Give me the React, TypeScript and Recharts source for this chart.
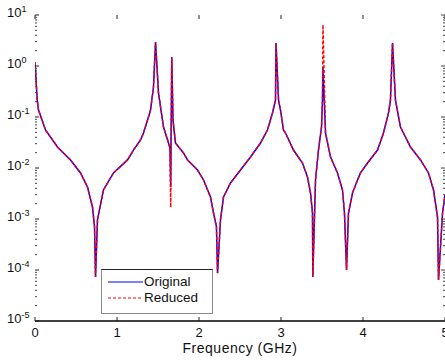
import React from 'react';
import { LineChart, Line, XAxis, YAxis, Legend } from 'recharts';

const FREQ_GHZ = [
  0, 0.027, 0.043, 0.128, 0.274, 0.433, 0.555, 0.64, 0.701, 0.726,
  0.738, 0.762, 0.835, 0.957, 1.128, 1.201, 1.287, 1.323, 1.384, 1.409,
  1.445, 1.47, 1.506, 1.567, 1.628, 1.646, 1.655, 1.66, 1.668, 1.683,
  1.713, 1.811, 1.86, 1.982, 2.055, 2.14, 2.177, 2.213, 2.226, 2.262,
  2.299, 2.384, 2.506, 2.628, 2.75, 2.835, 2.896, 2.933, 2.939, 2.97,
  2.994, 3.03, 3.055, 3.152, 3.262, 3.323, 3.36, 3.384, 3.388, 3.421,
  3.457, 3.494, 3.506, 3.512, 3.543, 3.604, 3.689, 3.75, 3.774, 3.799,
  3.823, 3.872, 3.933, 3.97, 4.055, 4.177, 4.25, 4.311, 4.335, 4.36,
  4.396, 4.457, 4.579, 4.701, 4.799, 4.86, 4.909, 4.921, 4.97, 5.0,
];

const ORIGINAL = [
  1.2, 0.215, 0.137, 0.0556, 0.0258, 0.0144, 0.008, 0.00424, 0.00172, 0.0007,
  0.000073, 0.00096, 0.00371, 0.008, 0.0144, 0.0225, 0.0354, 0.0485, 0.1, 0.137,
  0.387, 2.96, 0.296, 0.0637, 0.0309, 0.0247, 0.00424, 0.05, 1.5, 0.087,
  0.031, 0.0197, 0.0144, 0.00914, 0.00582, 0.0027, 0.00131, 0.0007, 0.000087, 0.00096,
  0.0027, 0.00508, 0.00914, 0.0164, 0.0309, 0.0556, 0.12, 0.215, 2.83, 0.215,
  0.137, 0.0556, 0.0485, 0.0225, 0.0125, 0.00667, 0.00324, 0.00131, 0.000073, 0.00582,
  0.0225, 0.0637, 0.215, 0.91, 0.0485, 0.0164, 0.008, 0.0037, 0.00131, 0.0001,
  0.00131, 0.00324, 0.00582, 0.008, 0.0125, 0.0225, 0.0485, 0.12, 0.215, 2.83,
  0.215, 0.0637, 0.0258, 0.0144, 0.008, 0.0037, 0.00109, 0.000064, 0.00131, 0.003,
];

const REDUCED = [
  1.2, 0.215, 0.137, 0.0556, 0.0258, 0.0144, 0.008, 0.00424, 0.00172, 0.0007,
  0.000073, 0.00096, 0.00371, 0.008, 0.0144, 0.0225, 0.0354, 0.0485, 0.1, 0.137,
  0.387, 2.96, 0.296, 0.0637, 0.0309, 0.0247, 0.0017, 0.05, 1.5, 0.087,
  0.031, 0.0197, 0.0144, 0.00914, 0.00582, 0.0027, 0.00131, 0.0007, 0.000087, 0.00096,
  0.0027, 0.00508, 0.00914, 0.0164, 0.0309, 0.0556, 0.12, 0.215, 2.83, 0.215,
  0.137, 0.0556, 0.0485, 0.0225, 0.0125, 0.00667, 0.00324, 0.00131, 0.000073, 0.00582,
  0.0225, 0.0637, 0.215, 6.4, 0.0485, 0.0164, 0.008, 0.0037, 0.00131, 0.0001,
  0.00131, 0.00324, 0.00582, 0.008, 0.0125, 0.0225, 0.0485, 0.12, 0.215, 2.83,
  0.215, 0.0637, 0.0258, 0.0144, 0.008, 0.0037, 0.00109, 0.000064, 0.00131, 0.003,
];

const X_TICKS = [0, 1, 2, 3, 4, 5];
const Y_MAJOR = [1e-5, 1e-4, 1e-3, 1e-2, 1e-1, 1, 10];
const Y_EXP = ['-5', '-4', '-3', '-2', '-1', '0', '1'];
const Y_MINOR_MULT = [2, 3, 4, 5, 6, 7, 8, 9];
const Y_ALL = Y_MAJOR.slice(0, -1)
  .flatMap((m) => [m, ...Y_MINOR_MULT.map((k) => k * m)])
  .concat([10]);

const FONT = '"Liberation Sans", Arial, Helvetica, sans-serif';

const data = FREQ_GHZ.map((f, i) => ({ f, original: ORIGINAL[i], reduced: REDUCED[i] }));

const LeftTick = (props: any) => {
  const { x, y, payload } = props;
  const idx = Y_MAJOR.indexOf(payload.value);
  if (idx < 0) {
    return <line x1={x} x2={x + 2} y1={y} y2={y} stroke="#444" strokeWidth={1} />;
  }
  return (
    <g>
      <line x1={x} x2={x + 4} y1={y} y2={y} stroke="#222" strokeWidth={1} />
      <text x={x - 28} y={y + 2} fontFamily={FONT} fontSize={13} fill="#111">
        10
        <tspan dy={-5} fontSize={9}>
          {Y_EXP[idx]}
        </tspan>
      </text>
    </g>
  );
};

const RightTick = (props: any) => {
  const { x, y, payload } = props;
  const major = Y_MAJOR.indexOf(payload.value) >= 0;
  return <line x1={x} x2={x - (major ? 4 : 2)} y1={y} y2={y} stroke="#444" strokeWidth={1} />;
};

const TopTick = (props: any) => {
  const { x, y } = props;
  return <line x1={x} x2={x} y1={y} y2={y + 4} stroke="#222" strokeWidth={1} />;
};

const BottomTick = (props: any) => {
  const { x, y, payload } = props;
  return (
    <g>
      <line x1={x} x2={x} y1={y} y2={y - 4} stroke="#222" strokeWidth={1} />
      <text x={x} y={y + 16} textAnchor="middle" fontFamily={FONT} fontSize={13} fill="#111">
        {payload.value}
      </text>
    </g>
  );
};

const LegendBox = (props: any) => {
  const items = props.payload || [];
  return (
    <div
      style={{
        width: 112,
        height: 45,
        boxSizing: 'border-box',
        border: '1px solid #888',
        borderTop: '1px solid #222',
        background: '#fff',
        fontFamily: FONT,
        fontSize: 13.5,
        color: '#111',
        paddingTop: 4,
      }}
    >
      {items.map((it: any) => (
        <div key={it.value} style={{ display: 'flex', alignItems: 'center', height: 16 }}>
          <svg width={42} height={16} style={{ display: 'block' }}>
            <line
              x1={6}
              x2={41}
              y1={8}
              y2={8}
              stroke={it.color}
              strokeWidth={1.2}
              strokeDasharray={it.payload && it.payload.strokeDasharray ? it.payload.strokeDasharray : undefined}
            />
          </svg>
          <span style={{ lineHeight: '16px' }}>{it.value}</span>
        </div>
      ))}
    </div>
  );
};

export default function App() {
  return (
    <div style={{ position: 'absolute', left: 0, top: 0, width: 445, height: 362, overflow: 'hidden', background: '#fff' }}>
      <LineChart width={460} height={362} data={data} margin={{ top: 0, right: 0, bottom: 0, left: 0 }}>
        <XAxis
          xAxisId="bottom"
          dataKey="f"
          type="number"
          domain={[0, 5]}
          ticks={X_TICKS}
          interval={0}
          allowDataOverflow
          height={41}
          axisLine={{ stroke: '#000', strokeWidth: 1.5 }}
          tickLine={false}
          tickSize={0}
          tickMargin={0}
          tick={<BottomTick />}
          label={{
            value: 'Frequency (GHz)',
            position: 'insideBottom',
            offset: 9,
            style: { fontFamily: FONT, fontSize: 14, letterSpacing: 0.5, fill: '#111' },
          }}
        />
        <XAxis
          xAxisId="top"
          dataKey="f"
          orientation="top"
          type="number"
          domain={[0, 5]}
          ticks={X_TICKS}
          interval={0}
          allowDataOverflow
          height={15}
          axisLine={false}
          tickLine={false}
          tickSize={0}
          tickMargin={0}
          tick={<TopTick />}
        />
        <YAxis
          yAxisId="left"
          type="number"
          scale="log"
          domain={[1e-5, 10]}
          ticks={Y_ALL}
          interval={0}
          allowDataOverflow
          width={35}
          axisLine={false}
          tickLine={false}
          tickSize={0}
          tickMargin={0}
          tick={<LeftTick />}
        />
        <YAxis
          yAxisId="right"
          orientation="right"
          type="number"
          scale="log"
          domain={[1e-5, 10]}
          ticks={Y_ALL}
          interval={0}
          allowDataOverflow
          width={15}
          axisLine={false}
          tickLine={false}
          tickSize={0}
          tickMargin={0}
          tick={<RightTick />}
        />
        <Legend
          layout="horizontal"
          verticalAlign="middle"
          align="center"
          content={<LegendBox />}
          wrapperStyle={{ left: 101, top: 269, width: 112, height: 45 }}
        />
        <Line
          xAxisId="bottom"
          yAxisId="left"
          type="linear"
          dataKey="original"
          name="Original"
          stroke="#0000ff"
          strokeWidth={1.5}
          dot={false}
          activeDot={false}
          isAnimationActive={false}
        />
        <Line
          xAxisId="bottom"
          yAxisId="left"
          type="linear"
          dataKey="reduced"
          name="Reduced"
          stroke="#ff0000"
          strokeWidth={1.5}
          strokeDasharray="3 2"
          dot={false}
          activeDot={false}
          isAnimationActive={false}
        />
      </LineChart>
    </div>
  );
}
